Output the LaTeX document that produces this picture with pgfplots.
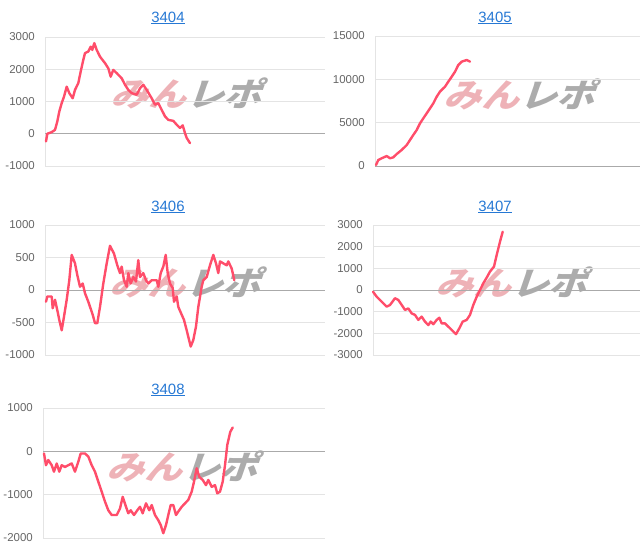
\documentclass[border=0pt]{standalone}
\usepackage{pgfplots}
\pgfplotsset{compat=1.18}
\usepackage{fontspec}
\setmainfont{Liberation Sans}
\newfontfamily\cjk[FakeSlant=0.3]{Noto Sans CJK JP}
\definecolor{linered}{RGB}{255,77,106}
\definecolor{gridgray}{RGB}{228,228,228}
\definecolor{zerogray}{RGB}{170,170,170}
\definecolor{labelgray}{RGB}{102,102,102}
\definecolor{titleblue}{RGB}{38,120,212}
\definecolor{wmpink}{RGB}{238,178,183}
\definecolor{wmgray}{RGB}{172,172,172}
\pgfplotsset{
  minichart/.style={
    scale only axis,
    anchor=north west,
    xmin=0,
    axis line style={draw=none},
    xtick=\empty,
    ymajorgrids,
    major grid style={gridgray, line width=0.8pt},
    ytick style={draw=none},
    extra x ticks={0},
    extra x tick labels={},
    extra x tick style={grid=major, major tick length=0pt, major grid style={gridgray, line width=0.8pt}},
    extra y ticks={0},
    extra y tick labels={},
    extra y tick style={grid=major, major tick length=0pt, major grid style={zerogray, line width=0.8pt}},
    scaled y ticks=false,
    /pgf/number format/assume math mode=true,
    /pgf/number format/1000 sep={},
    yticklabel style={font=\fontsize{11.5}{12}\selectfont, color=labelgray, inner sep=0pt, xshift=-10bp},
    clip=false,
  },
  redline/.style={linered, line width=2.4bp, line join=round, line cap=round, no marks},
}
\newcommand{\charttitle}[3]{\node[font=\fontsize{15}{16}\selectfont, text=titleblue] at (#1bp,-#2bp) {\underline{#3}};}
\newcommand{\watermark}[2]{\node[font=\cjk\bfseries\fontsize{33}{34}\selectfont, xscale=1.15, inner sep=0pt] at (#1bp,-#2bp) {\textcolor{wmpink}{みん}\textcolor{wmgray}{レポ}};}
\begin{document}
\begin{tikzpicture}
\useasboundingbox (0,0) rectangle (640bp,-558bp);
% watermarks
\watermark{186}{93}
\watermark{519}{94}
\watermark{185}{282}
\watermark{511}{282}
\watermark{182}{466}
% titles
\charttitle{168}{18}{3404}
\charttitle{495}{18}{3405}
\charttitle{168}{207}{3406}
\charttitle{495}{207}{3407}
\charttitle{168}{390}{3408}
% 3404
\begin{axis}[minichart, at={(45bp,-37bp)}, width=280bp, height=129bp,
  xmax=280, ymin=-1000, ymax=3000, ytick={-1000,0,1000,2000,3000}]
\addplot[redline] coordinates {(1,-238)(2.3,0)(6.7,50)(10,120)(12.3,380)(14.3,690)(16.7,950)(19,1150)(21.7,1460)(24.3,1260)(27.7,1100)(30,1360)(33.3,1570)(35.7,1930)(38.3,2290)(40,2500)(43.3,2550)(45.7,2700)(47.3,2600)(49.3,2810)(51.7,2600)(55,2390)(60,2190)(63.3,2030)(65.7,1770)(68.3,1980)(71.7,1880)(76.7,1720)(80,1520)(83.3,1360)(86.7,1260)(91.7,1210)(95,1410)(98.3,1520)(101.7,1360)(106.7,1100)(110,900)(113.3,950)(116.7,740)(120,540)(123.3,430)(128.3,400)(131.7,280)(135,180)(137.7,260)(140,20)(141.7,-130)(145,-290)};
\end{axis}
% 3405
\begin{axis}[minichart, at={(375bp,-36bp)}, width=265bp, height=130bp,
  xmax=265, ymin=0, ymax=15000, ytick={0,5000,10000,15000}]
\addplot[redline] coordinates {(1,115)(3.3,690)(6.7,890)(11.7,1150)(15,890)(18.3,1000)(21.7,1380)(26.7,1850)(31.7,2420)(35,3000)(38.3,3580)(41.7,4150)(45,4920)(48.3,5500)(51.7,6080)(55,6650)(58.3,7230)(61.7,8000)(65,8580)(70,9150)(73.3,9730)(76.7,10300)(80,10880)(83.3,11650)(86.7,12040)(91.7,12230)(95,12040)};
\end{axis}
% 3406
\begin{axis}[minichart, at={(45bp,-225bp)}, width=280bp, height=130bp,
  xmax=280, ymin=-1000, ymax=1000, ytick={-1000,-500,0,500,1000}]
\addplot[redline] coordinates {(1,-180)(2.3,-100)(6.7,-100)(7.7,-280)(10,-150)(12.3,-310)(14.3,-460)(16.7,-620)(19,-410)(21.7,-150)(24.3,150)(26.7,540)(30,410)(32.3,230)(35,50)(37.7,100)(40,-50)(43.3,-180)(47.7,-380)(50,-510)(52.3,-510)(55,-260)(58.3,100)(61.7,410)(65,680)(69,560)(72.3,380)(75,260)(76.7,360)(79,150)(81.7,50)(83.3,260)(85.7,100)(88.3,200)(91,130)(93.3,460)(95,200)(98.3,260)(101,150)(103.3,100)(106.7,150)(111.7,150)(113.3,50)(115.7,260)(118.3,360)(120.7,540)(122.7,260)(125,100)(127.7,30)(129,-180)(131.7,-100)(133.3,-260)(136.7,-380)(139,-460)(141.7,-620)(145.7,-870)(148.3,-770)(151,-560)(153.3,-260)(156.7,50)(158.3,150)(161.7,200)(165,380)(168.3,540)(171,410)(173.3,260)(175,440)(178.3,410)(181.7,380)(183.3,440)(186.7,330)(189.3,150)};
\end{axis}
% 3407
\begin{axis}[minichart, at={(373bp,-225bp)}, width=267bp, height=130bp,
  xmax=267, ymin=-3000, ymax=3000, ytick={-3000,-2000,-1000,0,1000,2000,3000}]
\addplot[redline] coordinates {(0,-80)(3.7,-310)(8.7,-540)(13.7,-770)(17,-690)(22,-380)(25.3,-460)(28.7,-690)(32,-920)(35.3,-850)(38.7,-1080)(42,-1150)(45.3,-1380)(48.7,-1230)(52,-1460)(55.3,-1620)(57.7,-1460)(60.3,-1580)(63.7,-1380)(66.3,-1280)(68.7,-1540)(72,-1540)(75.3,-1690)(79.7,-1890)(83,-2040)(86.3,-1770)(89.7,-1460)(93.7,-1380)(97,-1150)(100.3,-690)(103.7,-310)(107,0)(110.3,310)(113.7,570)(117,850)(121,1080)(123.7,1620)(127,2230)(129.7,2690)};
\end{axis}
% 3408
\begin{axis}[minichart, at={(43bp,-408bp)}, width=282bp, height=130bp,
  xmax=282, ymin=-2000, ymax=1000, ytick={-2000,-1000,0,1000}]
\addplot[redline] coordinates {(1,-50)(3,-320)(5.3,-200)(8.7,-320)(11,-470)(13.7,-280)(16.3,-470)(18.7,-320)(22,-360)(25.3,-320)(28.7,-280)(32,-470)(35.3,-240)(37.7,-50)(42,-50)(45.3,-120)(48.7,-320)(52,-470)(55.3,-700)(58.7,-930)(62,-1160)(65.3,-1360)(68.7,-1470)(73.7,-1470)(77,-1320)(79.7,-1050)(83,-1280)(85.3,-1430)(87.7,-1360)(91,-1470)(94.3,-1360)(97,-1280)(99.7,-1430)(103,-1200)(106.3,-1360)(108.7,-1240)(112,-1470)(115.3,-1590)(117.7,-1700)(120.3,-1890)(123,-1700)(125.3,-1470)(127.7,-1240)(130.3,-1240)(133,-1470)(135.3,-1390)(138.7,-1280)(142,-1200)(145.3,-1120)(148.7,-930)(151,-700)(153.7,-390)(156.3,-590)(159.7,-660)(163,-780)(165.3,-660)(168.7,-820)(172,-780)(174.3,-970)(177,-930)(179.7,-700)(182,-320)(184.3,150)(187.3,450)(189.7,550)};
\end{axis}
\end{tikzpicture}
\end{document}
